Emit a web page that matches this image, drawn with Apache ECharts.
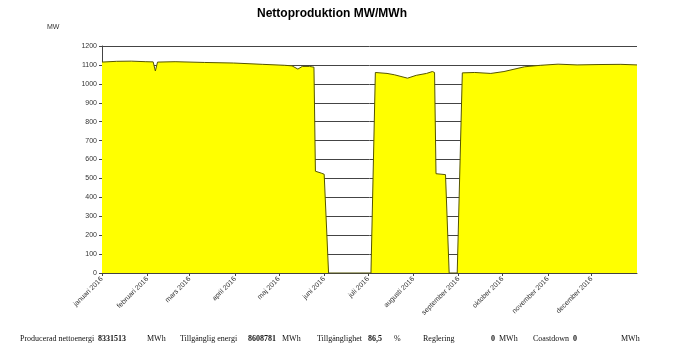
<!DOCTYPE html>
<html>
<head>
<meta charset="utf-8">
<script src="https://cdn.jsdelivr.net/npm/echarts@6/dist/echarts.min.js"></script>
<style>
    html, body {margin: 0; padding: 0; background: #fff;}
    #chart {width: 683px; height: 353px;}
</style>
</head>
<body>
<div id="chart"></div>
<script>
// day of year 2016 (0 = 1 januari) and MW
const days = [0, 10, 20, 30, 35, 36.5, 38, 50, 70, 90, 110, 125, 130, 134, 137, 142, 145,
    146, 150, 152, 155, 184, 187, 195, 200, 209, 215, 222, 226, 227.5, 228.5, 235, 237.5,
    243, 246.5, 255, 266, 275, 289, 300, 312, 325, 340, 355, 366];
const mw = [1115, 1119, 1120, 1117, 1116, 1068, 1115, 1117, 1113, 1110, 1103, 1098, 1095, 1078, 1092, 1092, 1088,
    538, 528, 522, 0, 0, 1060, 1055, 1048, 1030, 1045, 1055, 1065, 1060, 525, 520, 0,
    0, 1058, 1060, 1055, 1065, 1090, 1098, 1104, 1100, 1102, 1103, 1100];

const monthStarts = [0, 31, 60, 91, 121, 152, 182, 213, 244, 274, 305, 335];
const monthNames = ['januari 2016', 'februari 2016', 'mars 2016', 'april 2016', 'maj 2016', 'juni 2016',
    'juli 2016', 'augusti 2016', 'september 2016', 'oktober 2016', 'november 2016', 'december 2016'];

const footerTexts = ['Producerad nettoenergi', '8331513', 'MWh', 'Tillgänglig energi', '8608781', 'MWh',
    'Tillgänglighet', '86,5', '%', 'Reglering', '0', 'MWh', 'Coastdown', '0', 'MWh'];
const footerBold = [false, true, false, false, true, false, false, true, false, false, true, false, false, true, false];
const footerX = [20, 98, 147, 180, 248, 282, 317, 368, 394, 423, 491, 499, 533, 573, 621];

let chartDom = document.getElementById('chart');
let myChart = echarts.init(chartDom);

const seriesData = days.map((d, i) => [d, mw[i]]);

const footer = footerTexts.map((t, i) => ({
    type: 'text',
    left: footerX[i],
    top: 335,
    style: {
        text: t,
        fontFamily: 'Liberation Serif',
        fontSize: 8,
        fontWeight: footerBold[i] ? 'bold' : 'normal',
        fill: '#111',
    },
}));

const option = {
    animation: false,
    title: {
        text: 'Nettoproduktion MW/MWh',
        left: 252,
        top: 3,
        textStyle: {
            fontFamily: 'Liberation Sans',
            fontSize: 12,
            fontWeight: 'bold',
            color: '#000',
        },
    },
    grid: {
        left: 102,
        right: 46,
        top: 46,
        bottom: 80,
    },
    xAxis: {
        type: 'value',
        min: 0,
        max: 366,
        axisLine: {
            lineStyle: {color: '#444', width: 1},
        },
        axisTick: {
            customValues: monthStarts,
            length: 3,
            lineStyle: {color: '#444'},
        },
        axisLabel: {
            customValues: monthStarts,
            rotate: 45,
            margin: 5,
            fontFamily: 'Liberation Sans',
            fontSize: 7,
            color: '#333',
            formatter: v => monthNames[monthStarts.indexOf(v)] || '',
        },
        splitLine: {show: false},
    },
    yAxis: {
        type: 'value',
        min: 0,
        max: 1200,
        interval: 100,
        axisLine: {
            show: true,
            lineStyle: {color: '#444', width: 1},
        },
        axisTick: {
            show: true,
            length: 3,
            lineStyle: {color: '#444'},
        },
        axisLabel: {
            margin: 5,
            fontFamily: 'Liberation Sans',
            fontSize: 7,
            color: '#333',
            formatter: v => String(v),
        },
        splitLine: {
            lineStyle: {color: '#444', width: 1},
        },
    },
    series: [
        {
            type: 'line',
            data: seriesData,
            symbol: 'none',
            lineStyle: {color: '#555500', width: 1},
            areaStyle: {color: '#FFFF00', opacity: 1},
        },
    ],
    graphic: [
        {
            type: 'text',
            left: 47,
            top: 24,
            style: {
                text: 'MW',
                fontFamily: 'Liberation Sans',
                fontSize: 7,
                fill: '#333',
            },
        },
        ...footer,
    ],
};

myChart.setOption(option);
</script>
</body>
</html>
